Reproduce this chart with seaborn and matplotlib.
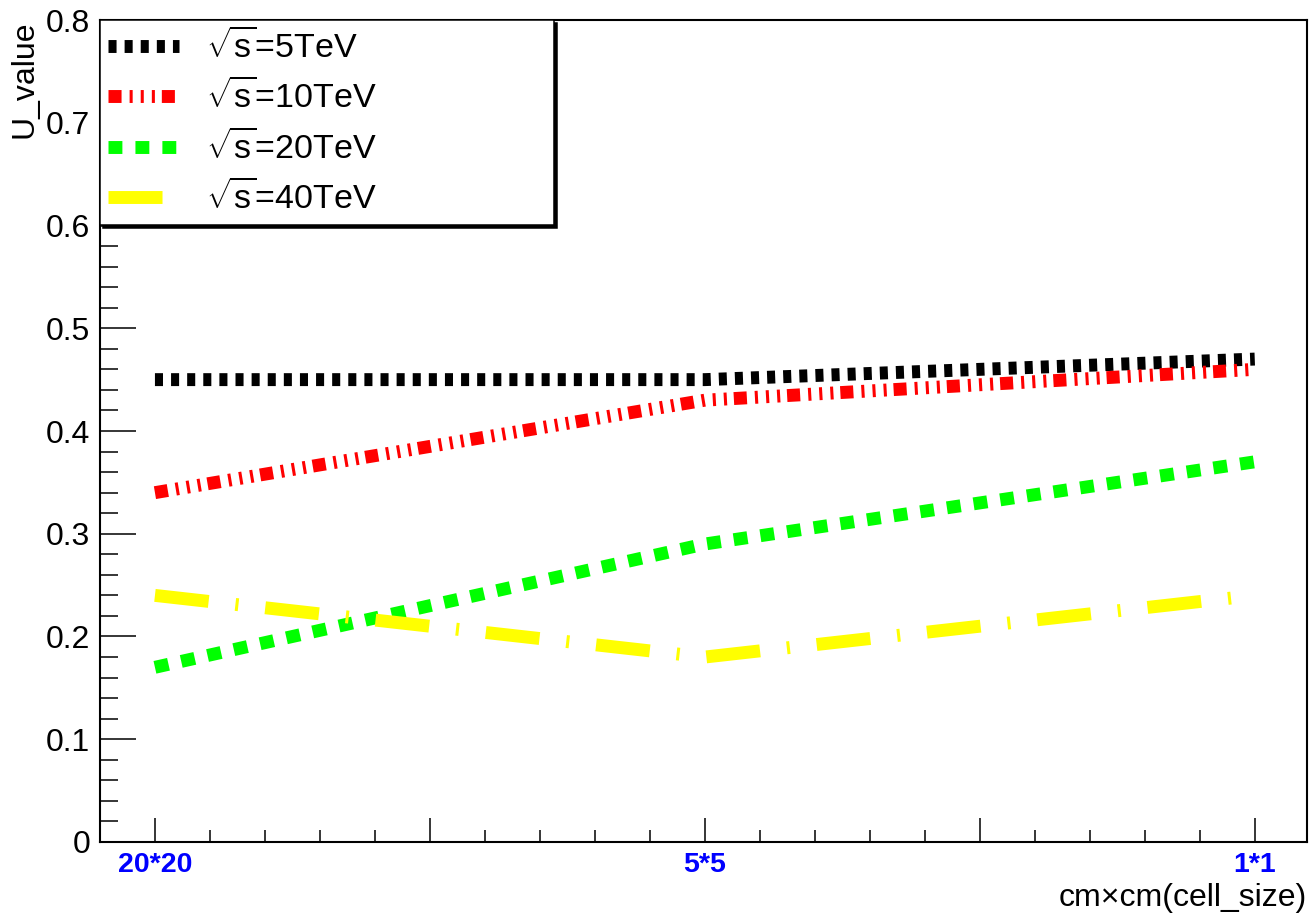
import numpy as np
import pandas as pd
import seaborn as sns
import matplotlib.pyplot as plt
from matplotlib.ticker import FixedLocator, MultipleLocator, FuncFormatter

cell_sizes = ["20*20", "5*5", "1*1"]
energies = ["5TeV", "10TeV", "20TeV", "40TeV"]
u_5tev = [0.45, 0.45, 0.47]
u_10tev = [0.34, 0.43, 0.46]
u_20tev = [0.17, 0.29, 0.37]
u_40tev = [0.24, 0.18, 0.24]

sns.set_theme(style="white")
plt.rcParams["font.family"] = ["Liberation Sans", "DejaVu Sans"]
plt.rcParams["mathtext.fontset"] = "custom"
plt.rcParams["mathtext.rm"] = "Liberation Sans"
plt.rcParams["mathtext.it"] = "Liberation Sans"
plt.rcParams["lines.scale_dashes"] = False
plt.rcParams["text.color"] = "black"
plt.rcParams["axes.labelcolor"] = "black"
plt.rcParams["xtick.color"] = "black"
plt.rcParams["ytick.color"] = "black"

rows = []
for e, vals in zip(energies, [u_5tev, u_10tev, u_20tev, u_40tev]):
    for i, v in enumerate(vals):
        rows.append({"energy": e, "pos": i, "U": v})
df = pd.DataFrame(rows)

colors = {"5TeV": "#000000", "10TeV": "#ff0000", "20TeV": "#00ff00", "40TeV": "#ffff00"}
# dash patterns in points (ROOT line styles)
dash_map = {
    "5TeV": (5.8, 5.8),
    "10TeV": (9.4, 5.8, 2.2, 5.8, 2.2, 5.8, 2.2, 5.0),
    "20TeV": (10.0, 9.4),
    "40TeV": (38.9, 19.4, 2.2, 19.4),
}

fig = plt.figure(figsize=(13.1, 9.18), dpi=100)
ax = fig.add_axes([0.0763, 0.0828, 0.9214, 0.8954])

sns.lineplot(data=df, x="pos", y="U", hue="energy", style="energy",
             hue_order=energies, style_order=energies,
             palette=colors, dashes=dash_map, linewidth=9.3,
             legend=False, ax=ax)

ax.set_xlim(-0.1, 2.095)
ax.set_ylim(0, 0.8)

# x axis: bin labels
ax.xaxis.set_major_locator(FixedLocator([0, 0.5, 1, 1.5, 2]))
ax.set_xticklabels([cell_sizes[0], "", cell_sizes[1], "", cell_sizes[2]])
ax.xaxis.set_minor_locator(MultipleLocator(0.1))
for lab in ax.get_xticklabels():
    lab.set_color("#0000ff")
    lab.set_fontweight("bold")
    lab.set_fontsize(20.5)
ax.tick_params(axis="x", which="major", direction="in", length=17.3, width=1.1, pad=7, bottom=True)
ax.tick_params(axis="x", which="minor", direction="in", length=8.6, width=1.1, bottom=True)

# y axis
ax.yaxis.set_major_locator(MultipleLocator(0.1))
ax.yaxis.set_minor_locator(MultipleLocator(0.02))
ax.yaxis.set_major_formatter(FuncFormatter(lambda v, p: f"{v:g}"))
ax.tick_params(axis="y", which="major", direction="in", length=26, width=1.1, pad=7,
               labelsize=23, labelcolor="black", left=True)
ax.tick_params(axis="y", which="minor", direction="in", length=13, width=1.1, left=True)

for s in ax.spines.values():
    s.set_color("black")
    s.set_linewidth(1.5)

ax.set_ylabel("U_value", fontsize=23, loc="top", color="black")
ax.yaxis.set_label_coords(-0.05, 1.0)
ax.set_xlabel("cm\u00d7cm(cell_size)", fontsize=23, loc="right", color="black")
ax.xaxis.set_label_coords(1.0, -0.05)

handles = ax.get_lines()[:4]
labels = [r"$\sqrt{s}$=" + e for e in energies]
leg = ax.legend(handles, labels, loc="upper left", bbox_to_anchor=(0, 0, 0.376, 1),
                mode="expand", borderaxespad=0, fontsize=24.5, handlelength=2.06,
                handletextpad=0.8, labelspacing=0.42, borderpad=0.25,
                fancybox=False, frameon=True, labelcolor="black",
                shadow={"color": "black", "alpha": 1})
leg.get_frame().set_edgecolor("black")
leg.get_frame().set_linewidth(1.1)
leg.get_frame().set_alpha(1)

fig.savefig("out.png", dpi=100)
